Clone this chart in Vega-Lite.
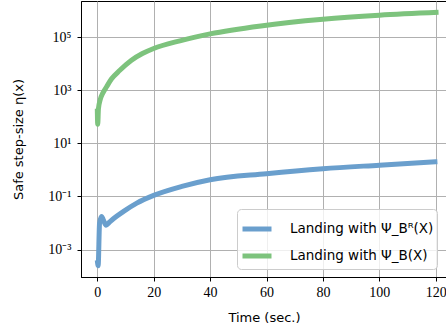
{
  "$schema": "https://vega.github.io/schema/vega-lite/v6.json",
  "width": 366,
  "height": 276,
  "autosize": {"type": "none"},
  "padding": {"left": 81, "top": 1, "right": 0, "bottom": 56},
  "background": "#ffffff",
  "config": {
    "view": {"stroke": "#000000", "strokeWidth": 1},
    "axis": {
      "domainColor": "#000000",
      "tickColor": "#000000",
      "tickSize": 4,
      "gridColor": "#b0b0b0",
      "gridWidth": 1,
      "labelFont": "Liberation Serif",
      "labelFontSize": 14,
      "labelColor": "#000000",
      "titleFont": "DejaVu Sans",
      "titleFontSize": 13,
      "titleFontWeight": "normal",
      "titleColor": "#000000"
    }
  },
  "data": {
    "values": [
      {"series": "Landing with Ψ_Bᴿ(X)", "t": 0, "eta": 0.0004},
      {"series": "Landing with Ψ_Bᴿ(X)", "t": 0.3, "eta": 0.00025},
      {"series": "Landing with Ψ_Bᴿ(X)", "t": 0.8, "eta": 0.01},
      {"series": "Landing with Ψ_Bᴿ(X)", "t": 1.5, "eta": 0.0178},
      {"series": "Landing with Ψ_Bᴿ(X)", "t": 2.2, "eta": 0.0126},
      {"series": "Landing with Ψ_Bᴿ(X)", "t": 3.1, "eta": 0.0083},
      {"series": "Landing with Ψ_Bᴿ(X)", "t": 4.2, "eta": 0.0105},
      {"series": "Landing with Ψ_Bᴿ(X)", "t": 5.7, "eta": 0.0145},
      {"series": "Landing with Ψ_Bᴿ(X)", "t": 9.2, "eta": 0.0269},
      {"series": "Landing with Ψ_Bᴿ(X)", "t": 14, "eta": 0.0562},
      {"series": "Landing with Ψ_Bᴿ(X)", "t": 20, "eta": 0.11},
      {"series": "Landing with Ψ_Bᴿ(X)", "t": 30, "eta": 0.24},
      {"series": "Landing with Ψ_Bᴿ(X)", "t": 40, "eta": 0.427},
      {"series": "Landing with Ψ_Bᴿ(X)", "t": 60, "eta": 0.724},
      {"series": "Landing with Ψ_Bᴿ(X)", "t": 80, "eta": 1.11},
      {"series": "Landing with Ψ_Bᴿ(X)", "t": 100, "eta": 1.51},
      {"series": "Landing with Ψ_Bᴿ(X)", "t": 120.6, "eta": 2.04},
      {"series": "Landing with Ψ_B(X)", "t": 0, "eta": 200},
      {"series": "Landing with Ψ_B(X)", "t": 0.15, "eta": 52},
      {"series": "Landing with Ψ_B(X)", "t": 0.4, "eta": 200},
      {"series": "Landing with Ψ_B(X)", "t": 1, "eta": 427},
      {"series": "Landing with Ψ_B(X)", "t": 2, "eta": 794},
      {"series": "Landing with Ψ_B(X)", "t": 3.3, "eta": 1349},
      {"series": "Landing with Ψ_B(X)", "t": 5, "eta": 2630},
      {"series": "Landing with Ψ_B(X)", "t": 8, "eta": 5623},
      {"series": "Landing with Ψ_B(X)", "t": 12, "eta": 13183},
      {"series": "Landing with Ψ_B(X)", "t": 16, "eta": 23988},
      {"series": "Landing with Ψ_B(X)", "t": 20, "eta": 37154},
      {"series": "Landing with Ψ_B(X)", "t": 29.3, "eta": 72444},
      {"series": "Landing with Ψ_B(X)", "t": 40, "eta": 131826},
      {"series": "Landing with Ψ_B(X)", "t": 58, "eta": 263027},
      {"series": "Landing with Ψ_B(X)", "t": 80, "eta": 467735},
      {"series": "Landing with Ψ_B(X)", "t": 100, "eta": 660693},
      {"series": "Landing with Ψ_B(X)", "t": 121, "eta": 851138}
    ]
  },
  "mark": {"type": "line", "strokeWidth": 5, "interpolate": "monotone", "clip": true},
  "encoding": {
    "x": {
      "field": "t",
      "type": "quantitative",
      "scale": {"domain": [-5.78, 124], "nice": false, "zero": false},
      "axis": {
        "title": "Time (sec.)",
        "values": [0, 20, 40, 60, 80, 100, 120],
        "labelPadding": 4,
        "titlePadding": 12
      }
    },
    "y": {
      "field": "eta",
      "type": "quantitative",
      "scale": {"type": "log", "domain": [0.0000933, 2280000], "nice": false},
      "axis": {
        "title": "Safe step-size η(x)",
        "values": [0.001, 0.1, 10, 1000, 100000],
        "labelExpr": "datum.value < 0.005 ? '10⁻³' : datum.value < 0.5 ? '10⁻¹' : datum.value < 50 ? '10¹' : datum.value < 5000 ? '10³' : '10⁵'",
        "labelPadding": 6,
        "titlePadding": 22
      }
    },
    "color": {
      "field": "series",
      "type": "nominal",
      "scale": {
        "domain": ["Landing with Ψ_Bᴿ(X)", "Landing with Ψ_B(X)"],
        "range": ["#6a9fcd", "#7dc37d"]
      },
      "legend": {
        "title": null,
        "orient": "none",
        "legendX": 156,
        "legendY": 208,
        "symbolType": "stroke",
        "symbolStrokeWidth": 5,
        "symbolSize": 841,
        "labelFont": "DejaVu Sans",
        "labelFontSize": 13.5,
        "labelColor": "#000000",
        "labelOffset": 16,
        "rowPadding": 0,
        "padding": 3,
        "fillColor": "rgba(255,255,255,0.8)",
        "strokeColor": "#cccccc",
        "cornerRadius": 4
      }
    }
  }
}
